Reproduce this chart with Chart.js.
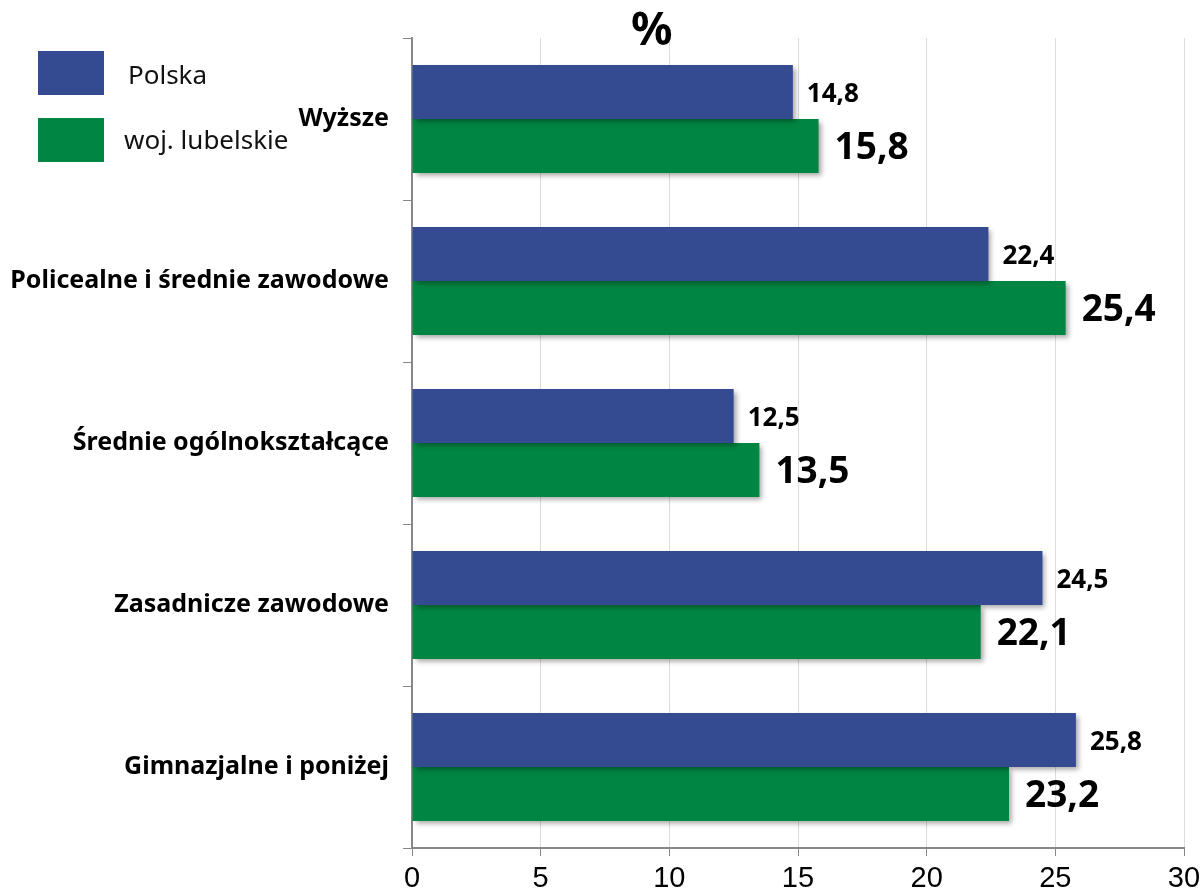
<!DOCTYPE html>
<html>
<head>
<meta charset="utf-8">
<script src="https://cdn.jsdelivr.net/npm/chart.js@4/dist/chart.umd.min.js"></script>
<style>
  body { margin: 0; background: #fff; }
  #wrap { position: relative; width: 1202px; height: 891px; }
  .legend-box { position: absolute; left: 38px; width: 66px; height: 44px; }
  .legend-text { position: absolute; font-family: "Noto Sans", sans-serif; font-size: 26px; line-height: 36px; color: #111; }
  #pct { position: absolute; left: 631px; top: -4px; font-family: "Noto Sans", sans-serif; font-weight: bold; font-size: 46px; }
</style>
</head>
<body>
<div id="wrap">
  <canvas id="chart" width="1202" height="891"></canvas>
  <div id="pct">%</div>
  <div class="legend-box" style="top:51px;background:#344a91"></div>
  <div class="legend-text" style="left:128px;top:56px">Polska</div>
  <div class="legend-box" style="top:118px;background:#008542"></div>
  <div class="legend-text" style="left:124px;top:121px">woj. lubelskie</div>
</div>
<script>
const categories = ['Wyższe', 'Policealne i średnie zawodowe', 'Średnie ogólnokształcące', 'Zasadnicze zawodowe', 'Gimnazjalne i poniżej'];
const polska = [14.8, 22.4, 12.5, 24.5, 25.8];
const lubelskie = [15.8, 25.4, 13.5, 22.1, 23.2];
const xTicks = [0, 5, 10, 15, 20, 25, 30];

// drop shadow under bars
const shadowPlugin = {
  id: 'barShadow',
  beforeDatasetsDraw(chart) {
    const ctx = chart.ctx;
    ctx.save();
    ctx.shadowColor = 'rgba(0,0,0,0.35)';
    ctx.shadowBlur = 5;
    ctx.shadowOffsetX = 3;
    ctx.shadowOffsetY = 3;
  },
  afterDatasetsDraw(chart) {
    chart.ctx.restore();
  }
};

// value labels at bar ends
const labelPlugin = {
  id: 'valueLabels',
  afterDatasetsDraw(chart) {
    const ctx = chart.ctx;
    ctx.save();
    ctx.fillStyle = '#000';
    ctx.textBaseline = 'middle';
    ctx.textAlign = 'left';
    chart.data.datasets.forEach((ds, i) => {
      const meta = chart.getDatasetMeta(i);
      ctx.font = i === 0 ? 'bold 26px "Noto Sans"' : 'bold 37px "Noto Sans"';
      meta.data.forEach((bar, j) => {
        const txt = ds.data[j].toFixed(1).replace('.', ',');
        ctx.fillText(txt, bar.x + (i === 0 ? 14 : 16), bar.y + (i === 0 ? 3 : 2));
      });
    });
    ctx.restore();
  }
};

new Chart(document.getElementById('chart'), {
  type: 'bar',
  data: {
    labels: categories,
    datasets: [
      { label: 'Polska', data: polska, backgroundColor: '#344a91' },
      { label: 'woj. lubelskie', data: lubelskie, backgroundColor: '#008542' }
    ]
  },
  options: {
    indexAxis: 'y',
    responsive: false,
    animation: false,
    layout: { padding: { top: 38, right: 18, left: 0, bottom: 0 } },
    datasets: { bar: { categoryPercentage: 0.667, barPercentage: 1 } },
    plugins: { legend: { display: false }, tooltip: { enabled: false } },
    scales: {
      x: {
        min: 0, max: 30,
        afterBuildTicks(scale) { scale.ticks = xTicks.map(v => ({ value: v })); },
        afterFit(scale) { scale.height = 43; scale.paddingLeft = 0; scale.paddingRight = 0; },
        grid: { color: '#dcdcdc', tickColor: '#888', tickLength: 8, lineWidth: 1 },
        border: { color: '#888', width: 2 },
        ticks: { color: '#000', font: { family: '"Liberation Sans Narrow", "Liberation Sans"', size: 29 }, padding: 6, maxRotation: 0 }
      },
      y: {
        afterFit(scale) { scale.width = 412; },
        grid: { drawOnChartArea: false, tickColor: '#888', tickLength: 9, offset: true },
        border: { color: '#888', width: 2 },
        ticks: { color: '#000', font: { family: '"Noto Sans"', size: 25, weight: 'bold' }, padding: 14 }
      }
    }
  },
  plugins: [shadowPlugin, labelPlugin]
});
</script>
</body>
</html>
